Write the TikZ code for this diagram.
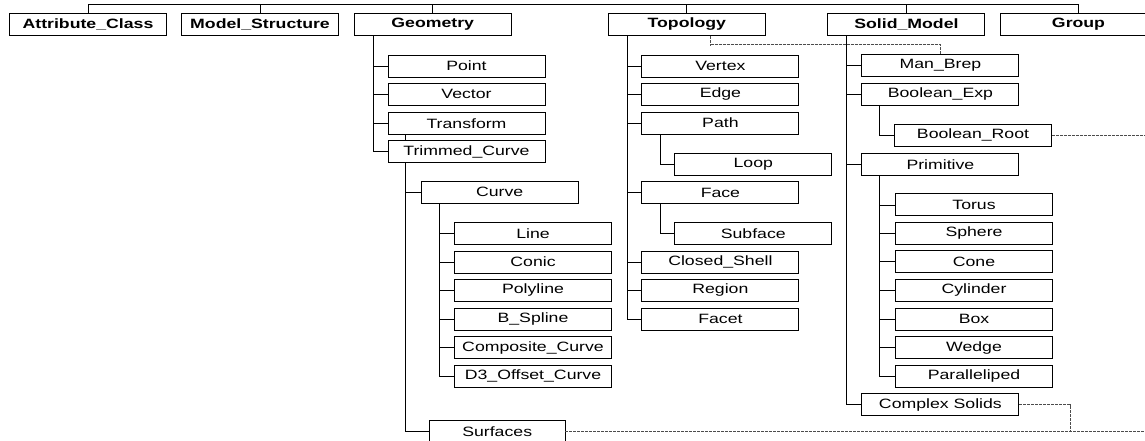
\documentclass[tikz,border=0pt]{standalone}
\usepackage{fontspec}
\setmainfont{Liberation Sans}[FakeStretch=1.31]
\begin{document}
\begin{tikzpicture}[x=1pt,y=-1pt,
  box/.style={draw=black, line width=0.85pt, fill=white, rectangle,
    minimum width=157pt, minimum height=22pt, inner sep=0pt,
    font=\fontsize{13.5}{15}\selectfont},
  topbox/.style={box, font=\fontsize{13.5}{15}\selectfont\bfseries},
  link/.style={draw=black, line width=0.8pt},
  heavylink/.style={draw=black, line width=1.4pt},
  xref/.style={draw=black!70, line width=0.65pt, dash pattern=on 3pt off 1pt}]
\useasboundingbox (0,0) rectangle (1145,440);
\clip (0,0) rectangle (1145,440);

% top level classes
\node[topbox] (attr)  at (88,24.5)    {Attribute\_Class};
\node[topbox] (model) at (260,24.5)   {Model\_Structure};
\node[topbox] (geom)  at (432.7,24.5) {Geometry};
\node[topbox] (topo)  at (686.8,24.5) {Topology};
\node[topbox] (solid) at (906.4,24.5) {Solid\_Model};
\node[topbox] (group) at (1078.5,24.5){Group};

% geometry branch
\node[box] (point)     at (466.5,66)   {Point};
\node[box] (vector)    at (466.5,94.3) {Vector};
\node[box] (transform) at (466.5,123.3){Transform};
\node[box] (trimmed)   at (466.5,151.5){Trimmed\_Curve};
\node[box] (curve)     at (499.7,192.2){Curve};
\node[box] (line)      at (533,233.5)  {Line};
\node[box] (conic)     at (533,262)    {Conic};
\node[box] (polyline)  at (533,290.2)  {Polyline};
\node[box] (bspline)   at (533,319)    {B\_Spline};
\node[box] (composite) at (533,347.6)  {Composite\_Curve};
\node[box] (offset)    at (533,376)    {D3\_Offset\_Curve};
\node[box, minimum width=135.7pt] (surfaces) at (497.2,431.5) {Surfaces};

% topology branch
\node[box] (vertex)  at (720.4,66)    {Vertex};
\node[box] (edge)    at (720.4,94.3)  {Edge};
\node[box] (path)    at (720.4,123)   {Path};
\node[box] (loop)    at (753.3,164.2) {Loop};
\node[box] (face)    at (720.4,192.5) {Face};
\node[box] (subface) at (753.3,233.3) {Subface};
\node[box] (shell)   at (720.4,262)   {Closed\_Shell};
\node[box] (region)  at (720.4,290.2) {Region};
\node[box] (facet)   at (720.4,319.2) {Facet};

% solid model branch
\node[box] (manbrep)   at (940.4,65.5)  {Man\_Brep};
\node[box] (boolexp)   at (940.4,94.3)  {Boolean\_Exp};
\node[box] (boolroot)  at (973,135.2)   {Boolean\_Root};
\node[box] (primitive) at (940.4,164.2) {Primitive};
\node[box] (torus)     at (974,204.9)   {Torus};
\node[box] (sphere)    at (974,233.3)   {Sphere};
\node[box] (cone)      at (974,261.7)   {Cone};
\node[box] (cylinder)  at (974,290.2)   {Cylinder};
\node[box] (boxprim)   at (974,319.2)   {Box};
\node[box] (wedge)     at (974,347.6)   {Wedge};
\node[box] (parallel)  at (974,376)     {Paralleliped};
\node[box] (complex)   at (940.4,404.8) {Complex Solids};

% top bus
\coordinate (bus) at (0,4);
\draw[link] (attr.north) |- (group.north |- bus) -- (group.north);
\foreach \n in {model,geom,topo,solid}
  \draw[link] (\n.north) -- (\n.north |- bus);

% geometry trunks
\foreach \c in {point,vector,transform,trimmed}
  \draw[link] ([xshift=20pt]geom.south west) |- (\c.west);
\draw[link] ([xshift=17.7pt]transform.south west) -- ([xshift=17.7pt]trimmed.north west);
\foreach \c in {curve,surfaces}
  \draw[heavylink] ([xshift=17.7pt]trimmed.south west) |- (\c.west);
\foreach \c in {line,conic,polyline,bspline,composite,offset}
  \draw[link] ([xshift=19pt]curve.south west) |- (\c.west);

% topology trunks
\foreach \c in {vertex,edge,path,face,shell,region,facet}
  \draw[link] ([xshift=19.5pt]topo.south west) |- (\c.west);
\draw[link] ([xshift=19pt]path.south west) |- (loop.west);
\draw[link] ([xshift=19pt]face.south west) |- (subface.west);

% solid model trunks
\foreach \c in {manbrep,boolexp,primitive,complex}
  \draw[link] ([xshift=19pt]solid.south west) |- (\c.west);
\draw[link] ([xshift=18.3pt]boolexp.south west) |- (boolroot.west);
\foreach \c in {torus,sphere,cone,cylinder,boxprim,wedge,parallel}
  \draw[link] ([xshift=18.3pt]primitive.south west) |- (\c.west);

% cross references
\coordinate (rim) at (1146,0);
\coordinate (join) at (1070,431.5);
\draw[xref] ([xshift=-55pt]topo.south east) -- ++(0,10)
  ([xshift=-55pt,yshift=-8.5pt]topo.south east) -| (manbrep.north);
\draw[xref] (boolroot.east) -- (boolroot.east -| rim);
\draw[xref] (complex.east) -| (join);
\draw[xref] (surfaces.east) -- (surfaces.east -| rim);
\end{tikzpicture}
\end{document}
